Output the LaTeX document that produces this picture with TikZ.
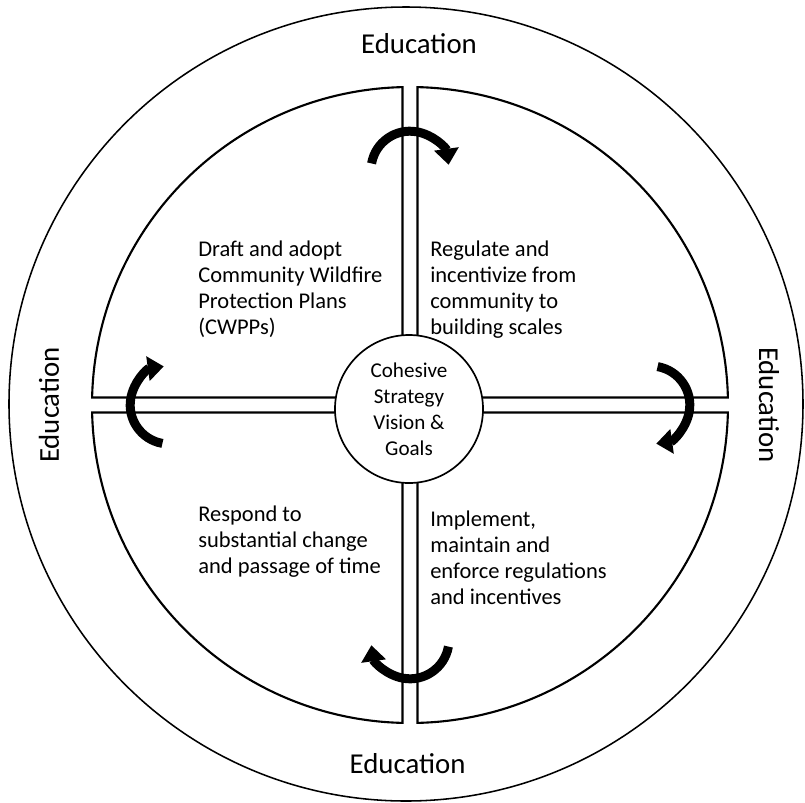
\documentclass[tikz,border=0pt]{standalone}
\usepackage{fontspec}
\setmainfont{Carlito}
\usetikzlibrary{arrows.meta}

\begin{document}
\begin{tikzpicture}[
    ring/.style={line width=1.1pt},
    quarter/.style={line width=1.5pt},
    cyclearrow/.style={line width=0.225cm, -{Triangle[length=0.4cm,width=0.6cm]}},
    edulabel/.style={inner sep=0, text=black, font=\fontsize{20.5}{24}\selectfont},
    steptext/.style={inner sep=0, align=left, anchor=north west, text=black, font=\fontsize{16}{18.5}\selectfont},
    hub/.style={circle, draw, line width=1.2pt, fill=white, minimum size=3.7cm, inner sep=0, align=center, text=black, font=\fontsize{15}{18.5}\selectfont}]
  \useasboundingbox (-10.25,-9.925) rectangle (9.875,10.125);
  % outer ring
  \draw[ring] (-0.1,0.025) circle[radius=9.925cm];
  % four quarters with the double separators
  \foreach \a in {0,90,180,270}
    \draw[quarter,rotate=\a] (0.1875,1.5) -- (88.65:7.95) arc[start angle=88.65, end angle=1.35, radius=7.95cm] -- (1.5,0.1875);
  % cycle arrows
  \foreach \d/\s in {90/5.87, 0/6.02, 270/5.87, 180/6.02}
    \draw[cyclearrow] (\d:\s) ++(\d+80:0.975) arc[start angle=\d+80, end angle=\d-82, radius=0.975cm];
  \node[hub] (hub) at (-0.025,-0.1) {Cohesive\\Strategy\\Vision \&\\Goals};
  \node[steptext] (draft) at (-5.3,4.11) {Draft and adopt\\Community Wildfire\\Protection Plans\\(CWPPs)};
  \node[steptext] (regulate) at (0.5,4.11) {Regulate and\\incentivize from\\community to\\building scales};
  \node[steptext] (respond) at (-5.3,-2.515) {Respond to\\substantial change\\and passage of time};
  \node[steptext] (implement) at (0.5,-2.64) {Implement,\\maintain and\\enforce regulations\\and incentives};
  % education all round
  \node[edulabel] (edutop) at (0.225,9.025) {Education};
  \node[edulabel, rotate=-90] (eduright) at (8.975,0) {Education};
  \node[edulabel] (edubottom) at (-0.06,-8.975) {Education};
  \node[edulabel, rotate=90] (eduleft) at (-9.025,0) {Education};
\end{tikzpicture}
\end{document}
